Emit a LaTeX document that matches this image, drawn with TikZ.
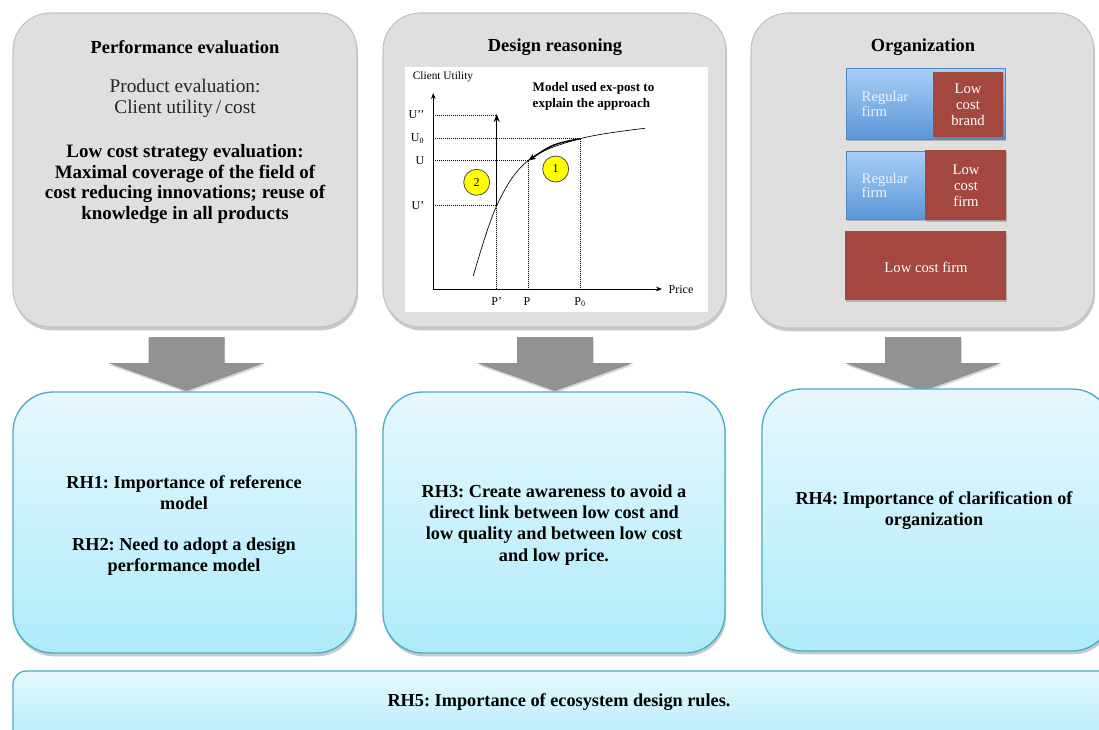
\documentclass[tikz,border=0pt]{standalone}
\usepackage{fontspec}
\setmainfont{Liberation Serif}
\usetikzlibrary{shadows,fit,calc,arrows.meta}
\frenchspacing
\definecolor{boxgray}{HTML}{DFDFDF}
\definecolor{boxedge}{HTML}{C2C2C2}
\definecolor{arrgray}{HTML}{929292}
\definecolor{cyanedge}{HTML}{4BACC6}
\definecolor{cyantop}{HTML}{E6F8FD}
\definecolor{cyanbot}{HTML}{AEEBFA}
\definecolor{firmred}{HTML}{A4483F}
\definecolor{bluetop}{HTML}{A9CFF9}
\definecolor{bluebot}{HTML}{5A97D6}
\definecolor{blueedge}{HTML}{4F86C6}
\definecolor{numyellow}{HTML}{FFFF00}
\tikzset{
  graybox/.style={draw=boxedge, line width=0.8pt, fill=boxgray, rounded corners=28pt, inner sep=0pt,
    drop shadow={shadow xshift=0.8pt, shadow yshift=-2.5pt, opacity=0.35, fill=black!60}},
  cyanbox/.style={draw=cyanedge, line width=1pt, top color=cyantop, bottom color=cyanbot, rounded corners=30pt, inner sep=0pt,
    drop shadow={shadow xshift=0.8pt, shadow yshift=-2.5pt, opacity=0.35, fill=black!60}},
  bluefirm/.style={draw=blueedge, line width=0.6pt, top color=bluetop, bottom color=bluebot, inner sep=0pt,
    drop shadow={shadow xshift=0.8pt, shadow yshift=-1.5pt, opacity=0.35, fill=black!60}},
  redfirm/.style={fill=firmred, inner sep=0pt,
    drop shadow={shadow xshift=0.8pt, shadow yshift=-1.5pt, opacity=0.35, fill=black!60}},
  ttl/.style={font=\bfseries\fontsize{13.8}{15.5}\selectfont, align=center},
  bodytxt/.style={font=\fontsize{14.5}{15.8}\selectfont, align=center, text=black!85},
  boldtxt/.style={font=\bfseries\fontsize{14.2}{15.4}\selectfont, align=center},
  rhtxt/.style={font=\bfseries\fontsize{13.7}{15.8}\selectfont, align=center},
  firmtxt/.style={font=\fontsize{11}{12}\selectfont, text=white, align=center},
  regtxt/.style={font=\fontsize{11}{11}\selectfont, text=white!95!blue, align=left, anchor=west},
  arrowfill/.style={fill=arrgray, drop shadow={shadow xshift=0.5pt, shadow yshift=-1.5pt, opacity=0.25, fill=black!60}},
  dotline/.style={densely dotted, line width=0.5pt},
  axis/.style={line width=0.6pt, -{Stealth[length=4.5pt, width=3.5pt]}},
  movearrow/.style={line width=1.1pt, -{Stealth[length=6pt, width=4.5pt]}},
  graphlbl/.style={font=\fontsize{9}{10}\selectfont},
  numcirc/.style={circle, fill=numyellow, draw=black!70, line width=0.6pt, minimum size=19.5pt, inner sep=0pt, font=\fontsize{9}{10}\selectfont}
}
\begin{document}
\begin{tikzpicture}[x=0.75pt, y=-0.75pt]
\useasboundingbox (0,0) rectangle (1099,729);
\clip (0,0) rectangle (1099,729);
\fill[white] (0,0) rectangle (1099,729);

% ---------- top boxes ----------
\node[graybox, fit={(13,13) (357,327)}] (perf) {};
\node[ttl] (perftitle) at (185,47) {Performance evaluation};
\node[bodytxt] (prodeval) at (185,98.5) {Product evaluation:\\Client utility\,/\,cost};
\node[boldtxt] (lowcost) at (185,184) {Low cost strategy evaluation:\\Maximal coverage of the field of\\cost reducing innovations; reuse of\\knowledge in all products};

\node[graybox, fit={(383,13) (726,327)}] (design) {};
\node[ttl] (designtitle) at (555,47) {Design reasoning};
\node[fill=white, inner sep=0pt, fit={(405,67) (708,312)}] (panel) {};

\node[graybox, fit={(751,13) (1094,328)}] (org) {};
\node[ttl] (orgtitle) at (923,47) {Organization};

% ---------- organization content ----------
\node[bluefirm, fit={(846,68) (1005,139)}] (reg1) {};
\node[redfirm, fit={(933,72) (1003,137)}] (lcb) {};
\node[regtxt] (reg1txt) at (857,104) {Regular\\firm};
\node[firmtxt] (lcbtxt) at (968,105) {Low\\cost\\brand};

\node[bluefirm, fit={(846,151) (1005,219)}] (reg2) {};
\node[redfirm, fit={(925,150) (1006,220)}] (lcf) {};
\node[regtxt] (reg2txt) at (857,185.5) {Regular\\firm};
\node[firmtxt] (lcftxt) at (966,186) {Low\\cost\\firm};

\node[redfirm, fit={(845,231) (1006,300)}] (lcf3) {};
\node[firmtxt] (lcf3txt) at (926,267) {Low cost firm};

% ---------- graph ----------
\coordinate (O) at (433.3,289);
\coordinate (ytop) at (433.3,93);
\coordinate (xend) at (662,289);
\coordinate (Ap) at (496.7,205.7);
\coordinate (A) at (528,160.7);
\coordinate (Az) at (580,138.7);
\coordinate (Upp) at (433.3,115);
\coordinate (Uz) at (433.3,138.7);
\coordinate (U) at (433.3,160.7);
\coordinate (Up) at (433.3,205.7);

\draw[dotline] (Upp) -- (Upp -| Ap);
\draw[dotline] (Uz) -- (Az);
\draw[dotline] (U) -- (A);
\draw[dotline] (Up) -- (Ap);
\draw[dotline] (Ap) -- (Ap |- O);
\draw[dotline] (A) -- (A |- O);
\draw[dotline] (Az) -- (Az |- O);

\draw[axis] (O) -- (ytop);
\draw[axis] (O) -- (xend);

\draw[line width=0.5pt] plot[smooth, tension=0.6] coordinates {(473.3,276) (496.7,205.7) (528,160.7) (580,138.7) (645,128.3)};

\draw[movearrow] (Ap) -- ($(Upp -| Ap)+(0,-1)$);
\draw[movearrow] (Az) .. controls (553,144) .. (A);

\node[numcirc] (n1) at (555.7,169) {1};
\node[numcirc] (n2) at (476.7,182.3) {2};

\node[graphlbl, anchor=east] (lUpp) at (429,115) {U’’};
\node[graphlbl, anchor=east] (lUz) at (429,138.7) {U\textsubscript{0}};
\node[graphlbl, anchor=east] (lU) at (429,160.7) {U};
\node[graphlbl, anchor=east] (lUp) at (429,205.7) {U’};
\node[graphlbl] (lPp) at (496.7,302) {P’};
\node[graphlbl] (lP) at (527,302) {P};
\node[graphlbl] (lPz) at (580,302) {P\textsubscript{0}};
\node[graphlbl, anchor=west] (lprice) at (664,290) {Price};
\node[font=\fontsize{8.5}{10}\selectfont] (lcu) at (443,77) {Client Utility};
\node[font=\bfseries\fontsize{9.8}{12}\selectfont, align=left, anchor=west] (model) at (528,96) {Model used ex-post to\\explain the approach};

% ---------- block arrows ----------
\coordinate (a1) at (186.5,337);
\coordinate (a2) at (555,337);
\coordinate (a3) at (923,337);
\foreach \a in {a1,a2,a3}{
  \path[arrowfill] (\a) ++(-38,0) -- ++(76,0) -- ++(0,26) -- ++(40,0) -- ++(-78,28) -- ++(-78,-28) -- ++(40,0) -- cycle;
}

% ---------- bottom boxes ----------
\node[cyanbox, fit={(13,392) (356,653)}] (rh1) {};
\node[cyanbox, fit={(383,392) (725,653)}] (rh3) {};
\node[cyanbox, fit={(762,389) (1112,651)}] (rh4) {};
\node[cyanbox, rounded corners=10pt, fit={(13,671) (1112,752)}] (rh5) {};

\node[rhtxt] (rh1txt) at (184,493) {RH1: Importance of reference\\model};
\node[rhtxt] (rh2txt) at (184,557) {RH2: Need to adopt a design\\performance model};
\node[rhtxt] (rh3txt) at (554,525) {RH3: Create awareness to avoid a\\direct link between low cost and\\low quality and between low cost\\and low price.};
\node[rhtxt] (rh4txt) at (934,511) {RH4: Importance of clarification of\\organization};
\node[rhtxt] (rh5txt) at (559,702) {RH5: Importance of ecosystem design rules.};
\end{tikzpicture}
\end{document}
